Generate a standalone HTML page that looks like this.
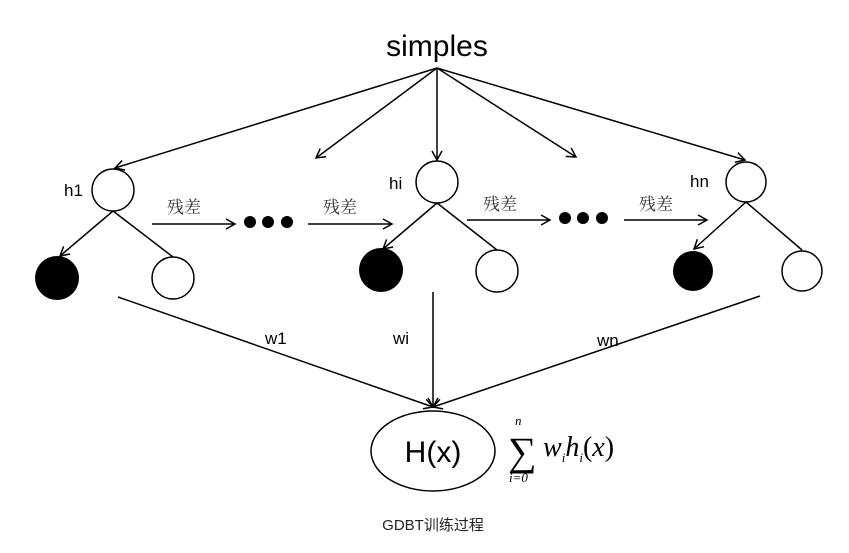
<!DOCTYPE html>
<html><head><meta charset="utf-8"><style>
html,body{margin:0;padding:0;background:#fff;}
svg{display:block;}
.s{font-family:"Liberation Sans",sans-serif;fill:#000;}
.c{font-family:"Liberation Serif","Noto Serif CJK SC",serif;fill:#333;font-size:17px;}
</style></head><body>
<svg width="849" height="553" viewBox="0 0 849 553" xmlns="http://www.w3.org/2000/svg">
<defs><marker id="a" markerWidth="12" markerHeight="12" refX="10" refY="6" orient="auto" markerUnits="userSpaceOnUse"><path d="M1,1 L10,6 L1,11" fill="none" stroke="#000" stroke-width="1.5"/></marker></defs>
<g stroke="#000" stroke-width="1.5" fill="none">
<line x1="437" y1="68" x2="115" y2="168" marker-end="url(#a)"/>
<line x1="437" y1="68" x2="316" y2="158" marker-end="url(#a)"/>
<line x1="437" y1="68" x2="437" y2="160" marker-end="url(#a)"/>
<line x1="437" y1="68" x2="576" y2="157" marker-end="url(#a)"/>
<line x1="437" y1="68" x2="745" y2="160" marker-end="url(#a)"/>
<circle cx="113" cy="190" r="21"/>
<line x1="113" y1="211" x2="60" y2="256" marker-end="url(#a)"/>
<line x1="113" y1="211" x2="173" y2="257"/>
<circle cx="173" cy="278" r="21"/>
<circle cx="437" cy="182" r="21"/>
<line x1="437" y1="203" x2="383" y2="249" marker-end="url(#a)"/>
<line x1="437" y1="203" x2="497" y2="250"/>
<circle cx="497" cy="271" r="21"/>
<circle cx="746" cy="182" r="20"/>
<line x1="746" y1="202" x2="694" y2="249" marker-end="url(#a)"/>
<line x1="746" y1="202" x2="802" y2="250"/>
<circle cx="802" cy="271" r="20"/>
<line x1="152" y1="224" x2="235" y2="224" marker-end="url(#a)"/>
<line x1="308" y1="224" x2="392" y2="224" marker-end="url(#a)"/>
<line x1="467" y1="220" x2="550" y2="220" marker-end="url(#a)"/>
<line x1="624" y1="220" x2="707" y2="220" marker-end="url(#a)"/>
<line x1="118" y1="297" x2="433" y2="407" marker-end="url(#a)"/>
<line x1="433" y1="292" x2="433" y2="407" marker-end="url(#a)"/>
<line x1="760" y1="296" x2="433" y2="407" marker-end="url(#a)"/>
<ellipse cx="433" cy="451" rx="62" ry="40"/>
</g>
<g fill="#000">
<circle cx="57" cy="278" r="22"/>
<circle cx="381" cy="270" r="22"/>
<circle cx="693" cy="271" r="20"/>
<circle cx="250" cy="222" r="6"/><circle cx="268" cy="222" r="6"/><circle cx="287" cy="222" r="6"/>
<circle cx="565" cy="218" r="6"/><circle cx="583" cy="218" r="6"/><circle cx="602" cy="218" r="6"/>
</g>
<text class="s" x="437" y="56" font-size="30" text-anchor="middle">simples</text>
<text class="s" x="64" y="196" font-size="17">h1</text>
<text class="s" x="389" y="189" font-size="17">hi</text>
<text class="s" x="690" y="187" font-size="17">hn</text>
<text class="c" x="167" y="213">残差</text>
<text class="c" x="323" y="213">残差</text>
<text class="c" x="483" y="210">残差</text>
<text class="c" x="639" y="210">残差</text>
<text class="s" x="265" y="344" font-size="17">w1</text>
<text class="s" x="393" y="344" font-size="17">wi</text>
<text class="s" x="597" y="346" font-size="17">wn</text>
<text class="s" x="433" y="462" font-size="30" text-anchor="middle">H(x)</text>
<g font-family="Liberation Serif",serif>
<text x="508" y="465" font-size="40" font-family="Liberation Serif,serif">∑</text>
<text x="515" y="425" font-size="13" font-style="italic" font-family="Liberation Serif,serif">n</text>
<text x="509" y="482" font-size="13" font-style="italic" font-family="Liberation Serif,serif">i=0</text>
<text x="543" y="456" font-size="28" font-style="italic" font-family="Liberation Serif,serif">w<tspan font-size="13" dy="6">i</tspan><tspan dy="-6">h</tspan><tspan font-size="13" dy="6">i</tspan><tspan dy="-6" font-style="normal">(</tspan>x<tspan font-style="normal">)</tspan></text>
</g>
<text x="433" y="530" font-size="15" text-anchor="middle" font-family="Liberation Sans, Noto Sans CJK SC, sans-serif" fill="#222">GDBT训练过程</text>
</svg>
</body></html>
